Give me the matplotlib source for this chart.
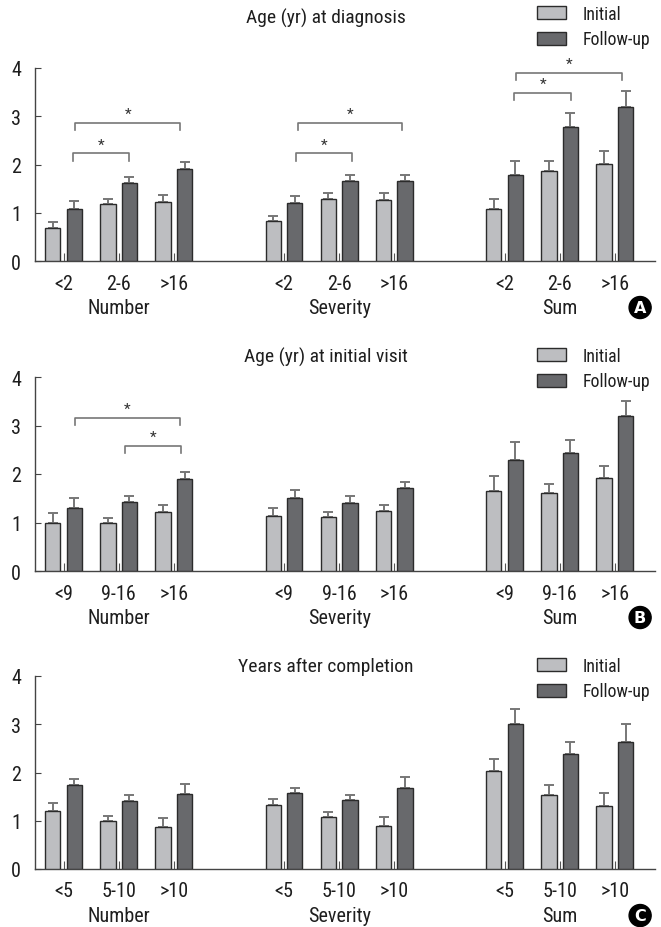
import matplotlib
matplotlib.use('Agg')
import matplotlib.pyplot as plt

plt.rcParams['font.family'] = ['Roboto Condensed', 'DejaVu Sans']

groups = ['Number', 'Severity', 'Sum']
titles = ['Age (yr) at diagnosis', 'Age (yr) at initial visit', 'Years after completion']
panel_tags = ['A', 'B', 'C']
cat_labels = [['<2', '2-6', '>16'], ['<9', '9-16', '>16'], ['<5', '5-10', '>10']]

# means and upper error (Number x3, Severity x3, Sum x3)
init_vals = [[0.69, 1.19, 1.22, 0.82, 1.28, 1.26, 1.07, 1.87, 2.01],
             [1.00, 1.00, 1.21, 1.13, 1.12, 1.23, 1.64, 1.60, 1.92],
             [1.21, 0.99, 0.88, 1.32, 1.07, 0.90, 2.04, 1.54, 1.30]]
init_err = [[0.11, 0.10, 0.14, 0.11, 0.12, 0.14, 0.21, 0.21, 0.26],
            [0.19, 0.10, 0.15, 0.16, 0.10, 0.13, 0.31, 0.20, 0.24],
            [0.15, 0.10, 0.18, 0.13, 0.12, 0.17, 0.25, 0.21, 0.27]]
follow_vals = [[1.07, 1.61, 1.90, 1.20, 1.65, 1.65, 1.79, 2.78, 3.20],
               [1.30, 1.42, 1.90, 1.51, 1.41, 1.72, 2.28, 2.44, 3.20],
               [1.74, 1.41, 1.56, 1.57, 1.42, 1.68, 3.01, 2.39, 2.63]]
follow_err = [[0.17, 0.14, 0.15, 0.15, 0.14, 0.14, 0.29, 0.29, 0.33],
              [0.20, 0.13, 0.15, 0.17, 0.14, 0.12, 0.37, 0.26, 0.31],
              [0.13, 0.13, 0.21, 0.11, 0.12, 0.22, 0.30, 0.24, 0.38]]

# significance brackets: (panel, x start, x end, height)
brackets = [(0, 0.17, 1.19, 2.23), (0, 0.21, 2.12, 2.87),
            (0, 4.22, 5.24, 2.23), (0, 4.26, 6.14, 2.87),
            (0, 8.18, 9.21, 3.48), (0, 8.21, 10.14, 3.90),
            (1, 0.21, 2.11, 3.16), (1, 1.12, 2.14, 2.58)]

positions = [0, 1, 2, 4, 5, 6, 8, 9, 10]
group_pos = [1, 5, 9]

light = '#bdbec1'
dark = '#68696c'
edge = '#2b2b2b'
errc = '#777777'

fig = plt.figure(figsize=(6.61, 9.28), dpi=100)
W, H = 661, 928
axes_px = [(69, 262), (378, 572), (677, 870)]   # (top, bottom) in pixels
title_y = [18, 357, 667]
leg_y = [6, 348, 658]

for i in range(3):
    top, bot = axes_px[i]
    ax = fig.add_axes([35 / W, 1 - bot / H, 620 / W, (bot - top) / H])
    d = 0.195
    w = 0.28
    xi = [p - d for p in positions]
    xf = [p + d for p in positions]
    b1 = ax.bar(xi, init_vals[i], w, color=light, edgecolor=edge, linewidth=1.0,
                label='Initial', zorder=3)
    b2 = ax.bar(xf, follow_vals[i], w, color=dark, edgecolor=edge, linewidth=1.0,
                label='Follow-up', zorder=3)
    ax.errorbar(xi, init_vals[i], yerr=[[0] * 9, init_err[i]], fmt='none',
                ecolor=errc, elinewidth=1.4, capsize=3.3, capthick=1.4, zorder=2)
    ax.errorbar(xf, follow_vals[i], yerr=[[0] * 9, follow_err[i]], fmt='none',
                ecolor=errc, elinewidth=1.4, capsize=3.3, capthick=1.4, zorder=2)

    ax.set_xlim(-0.517, 10.73)
    ax.set_ylim(0, 4)
    ax.set_yticks([0, 1, 2, 3, 4])
    ax.set_xticks(positions)
    ax.set_xticklabels(cat_labels[i] * 3)
    ax.tick_params(axis='x', direction='in', length=6, width=0.8, color='#555555',
                   pad=9, labelsize=14.5, labelcolor='#1e1e1e')
    ax.tick_params(axis='y', direction='in', length=4.5, width=0.8, color='#444444',
                   pad=10, labelsize=14.5, labelcolor='#1e1e1e')
    for s in ['top', 'right']:
        ax.spines[s].set_visible(False)
    for s in ['left', 'bottom']:
        ax.spines[s].set_color('#444444')
        ax.spines[s].set_linewidth(1.0)

    for g, gp in zip(groups, group_pos):
        ax.annotate(g, xy=(gp, 0), xycoords=('data', 'axes fraction'),
                    xytext=(0, -33.5), textcoords='offset points',
                    ha='center', va='center', fontsize=14.5, color='#1e1e1e')
    ax.annotate(panel_tags[i], xy=(10.46, 0), xycoords=('data', 'axes fraction'),
                xytext=(0, -33.5), textcoords='offset points',
                ha='center', va='center', fontsize=11.5, fontweight='bold',
                color='white', family='DejaVu Sans',
                bbox=dict(boxstyle='circle,pad=0.22', fc='black', ec='black'))

    for (pi, x1, x2, yb) in brackets:
        if pi != i:
            continue
        leg = 0.15
        ax.plot([x1, x1, x2, x2], [yb - leg, yb, yb, yb - leg], color=errc,
                lw=1.2, zorder=4, clip_on=False)
        ax.text((x1 + x2) / 2, yb + 0.04, '*', ha='center', va='bottom',
                fontsize=11, color='#333333')

    fig.text(326 / W, 1 - title_y[i] / H, titles[i], ha='center', va='center',
             fontsize=14, color='#1e1e1e')
    fig.legend(handles=[b1, b2], loc='upper left',
               bbox_to_anchor=(537 / W, 1 - leg_y[i] / H), frameon=False,
               fontsize=12.8, handlelength=1.62, handleheight=0.72,
               handletextpad=0.95, labelspacing=0.42, borderpad=0,
               borderaxespad=0, labelcolor='#1e1e1e')

fig.savefig('out.png', dpi=100)
